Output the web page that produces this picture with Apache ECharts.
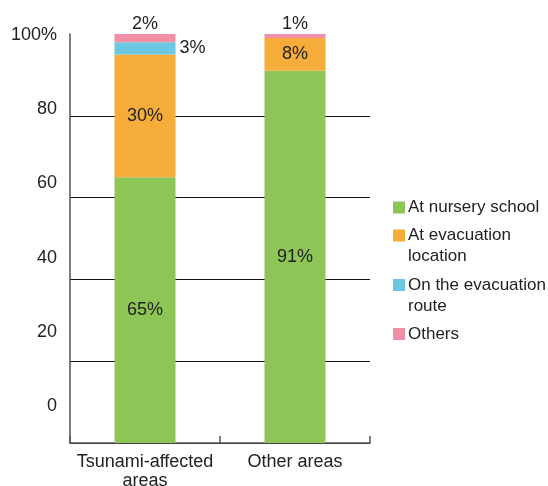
<!DOCTYPE html>
<html><head><meta charset="utf-8">
<script src="https://cdn.jsdelivr.net/npm/echarts@6/dist/echarts.min.js"></script>
<style>html,body{margin:0;padding:0;background:#fff}#c{width:548px;height:486px}</style>
</head><body><div id="c"></div>
<script>
const categories = ['Tsunami-affected areas', 'Other areas'];
const seriesNames = ['At nursery school', 'At evacuation location', 'On the evacuation route', 'Others'];
const nursery = [65, 91];
const evacLocation = [30, 8];
const evacRoute = [3, 0];
const others = [2, 1];
const yTickLabels = ['0', '20', '40', '60', '80', '100%'];
const colors = ['#8dc556', '#f5ac3b', '#6cc8e1', '#ef90a6'];

const FONT = 'Liberation Sans';
const TXT = '#222';
const legendWrap = {
  'At evacuation location': 'At evacuation\nlocation',
  'On the evacuation route': 'On the evacuation\nroute'
};
const sq = 'path://M0,0L12,0L12,12L0,12Z';
const sqTop = 'path://M0,0L12,0L12,12L0,12Z M0,33L0.01,33L0.01,33.01Z';
const legendTops = [197, 225, 274.5, 323.5];

function mkLegend(i) {
  const two = !!legendWrap[seriesNames[i]];
  return {
    data: [seriesNames[i]],
    left: 393, top: legendTops[i], padding: 0,
    orient: 'vertical',
    icon: two ? sqTop : sq,
    itemWidth: 12, itemHeight: two ? 33 : 12,
    selectedMode: false,
    formatter: n => legendWrap[n] || n,
    textStyle: { fontFamily: FONT, fontSize: 17, color: TXT, lineHeight: 21, padding: [0, 0, 0, -2] }
  };
}

const lbl = { fontFamily: FONT, fontSize: 18, color: TXT, formatter: p => p.value + '%' };

function mkData(arr, labelFor) {
  return arr.map((v, i) => ({ value: v, label: labelFor(v, i) }));
}

const chart = echarts.init(document.getElementById('c'), null, { renderer: 'canvas' });
chart.setOption({
  animation: false,
  color: colors,
  textStyle: { fontFamily: FONT },
  grid: [
    { left: 70, right: 178, top: 34, bottom: 43, containLabel: false, outerBoundsMode: 'none' },
    { left: 70, right: 178, top: 35, bottom: 80, containLabel: false, outerBoundsMode: 'none' }
  ],
  legend: [0, 1, 2, 3].map(mkLegend),
  xAxis: [
    {
      type: 'category', gridIndex: 0, data: categories,
      axisLine: { lineStyle: { color: '#555', width: 1.5 } },
      axisTick: { show: true, inside: true, length: 7, lineStyle: { color: '#555', width: 1.5 } },
      axisLabel: {
        fontFamily: FONT, fontSize: 18, color: TXT, margin: 10, lineHeight: 19, interval: 0,
        formatter: v => v.replace('-affected ', '-affected\n')
      }
    },
    { type: 'value', gridIndex: 1, show: false, min: 0, max: 1 }
  ],
  yAxis: [
    {
      type: 'value', gridIndex: 0, min: 0, max: 100, interval: 20,
      axisLine: { show: true, lineStyle: { color: '#555', width: 1.5 } },
      axisTick: { show: false },
      axisLabel: { show: false },
      splitLine: { show: true, lineStyle: { width: 1, color: ['#111', '#111', '#111', '#111', '#111', 'rgba(0,0,0,0)'] } }
    },
    {
      type: 'value', gridIndex: 1, min: 0, max: 100, interval: 20,
      axisLine: { show: false }, axisTick: { show: false }, splitLine: { show: false },
      axisLabel: {
        fontFamily: FONT, fontSize: 18, color: TXT, margin: 13,
        formatter: v => yTickLabels[Math.round(v / 20)]
      }
    }
  ],
  series: [
    {
      name: seriesNames[0], type: 'bar', stack: 's', barWidth: 61, xAxisIndex: 0, yAxisIndex: 0,
      data: nursery, label: Object.assign({ show: true, position: 'inside' }, lbl)
    },
    {
      name: seriesNames[1], type: 'bar', stack: 's', barWidth: 61,
      data: evacLocation, label: Object.assign({ show: true, position: 'inside' }, lbl)
    },
    {
      name: seriesNames[2], type: 'bar', stack: 's', barWidth: 61,
      data: mkData(evacRoute, v => ({ show: v > 0, position: 'right', distance: 4 })),
      label: Object.assign({ show: true }, lbl)
    },
    {
      name: seriesNames[3], type: 'bar', stack: 's', barWidth: 61,
      data: others, label: Object.assign({ show: true, position: 'top', distance: 1 }, lbl)
    }
  ]
});
</script></body></html>
